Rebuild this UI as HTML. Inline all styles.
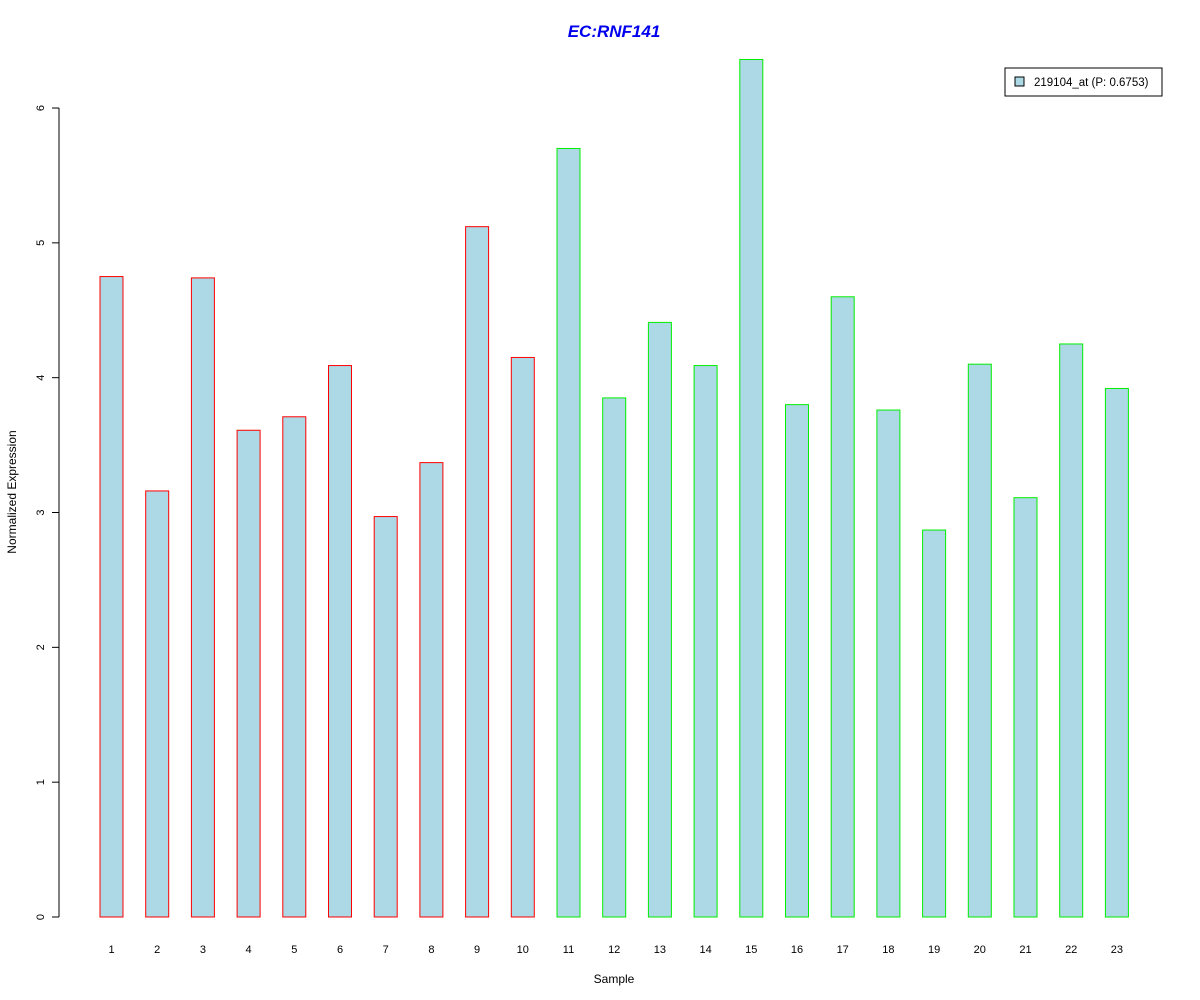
<!DOCTYPE html>
<html><head><meta charset="utf-8"><style>body{margin:0;background:#fff}svg{display:block;font-family:"Liberation Sans",Arial,sans-serif}</style></head>
<body>
<svg id="chart" width="1200" height="1000">
<text x="614" y="37" text-anchor="middle" font-size="17" font-weight="bold" font-style="italic" fill="#0000ee">EC:RNF141</text>
<text x="614" y="983" text-anchor="middle" font-size="12">Sample</text>
<text transform="translate(16,492) rotate(-90)" text-anchor="middle" font-size="12">Normalized Expression</text>
<g>
<rect x="1005" y="68" width="157" height="28" fill="#fff" stroke="#000"/>
<rect x="1015" y="77" width="9" height="9" fill="#add8e6" stroke="#000"/>
<text x="1034" y="86" font-size="11.5">219104_at (P: 0.6753)</text>
</g>
<g id="yaxis"></g>
<g id="bars"></g>
<g id="xlabels"></g>
</svg>
<script>
const categories = ["1","2","3","4","5","6","7","8","9","10","11","12","13","14","15","16","17","18","19","20","21","22","23"];
const values = [4.75,3.16,4.74,3.61,3.71,4.09,2.97,3.37,5.12,4.15,5.70,3.85,4.41,4.09,6.36,3.80,4.60,3.76,2.87,4.10,3.11,4.25,3.92];
const groups = ["a","a","a","a","a","a","a","a","a","a","b","b","b","b","b","b","b","b","b","b","b","b","b"];
const yTicks = [0,1,2,3,4,5,6];
const NS="http://www.w3.org/2000/svg";
const y = v => 917 - v*134.83;
const xc = i => 111.5 + i*45.7;
function mk(tag, attrs, parent){const e=document.createElementNS(NS,tag);for(const k in attrs)e.setAttribute(k,attrs[k]);parent.appendChild(e);return e;}
const ya=document.getElementById('yaxis');
const axl=mk('line',{x1:59,x2:59,y1:y(0),y2:y(6),stroke:'#000'},ya);


yTicks.forEach(t=>{
 const l=mk('line',{x1:52,x2:59,y1:y(t),y2:y(t),stroke:'#000'},ya);
 
 
 const tx=mk('text',{transform:`translate(44,${y(t)}) rotate(-90)`,'text-anchor':'middle','font-size':11},ya);
 tx.textContent=t;
 
 
});
const bg=document.getElementById('bars'), xl=document.getElementById('xlabels');
values.forEach((v,i)=>{
 const r=mk('rect',{x:xc(i)-11.5,y:y(v),width:23,height:y(0)-y(v),fill:'#add8e6',stroke:groups[i]==='a'?'#ff0000':'#00ee00'},bg);
 
 
 const t=mk('text',{x:xc(i),y:953,'text-anchor':'middle','font-size':11},xl);
 t.textContent=categories[i];
 
 
});
</script>
</body></html>
